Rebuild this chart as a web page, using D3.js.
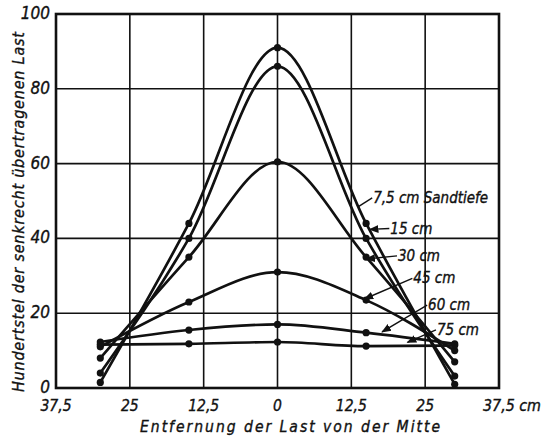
<!DOCTYPE html>
<html lang="de">
<head>
<meta charset="utf-8">
<style>
  body { margin: 0; background: #fff; }
  text { font-family: "DejaVu Sans Condensed", "DejaVu Sans", sans-serif; font-style: italic; fill: #111; stroke: #111; stroke-width: 0.35px; }
</style>
</head>
<body>
<script src="https://d3js.org/d3.v7.min.js"></script>
<script>
var width = 545, height = 440;

// Entfernung der Last von der Mitte (cm)
var xPos = [-30, -15, 0, 15, 30];
var xTicks = [-37.5, -25, -12.5, 0, 12.5, 25, 37.5];
var yTicks = [0, 20, 40, 60, 80, 100];

// Hundertstel der senkrecht übertragenen Last, je Sandtiefe
var depthNames = ["7,5 cm Sandtiefe", "15 cm", "30 cm", "45 cm", "60 cm", "75 cm"];
var d7_5 = [1.5, 44, 91, 44, 1];
var d15 = [4, 40, 86, 40, 3.2];
var d30 = [8, 35, 60.5, 35, 7];
var d45 = [11, 23, 31, 23.5, 10];
var d60 = [12.3, 15.5, 17, 14.8, 11.8];
var d75 = [11.6, 11.8, 12.3, 11.2, 11.4];
var series = [d7_5, d15, d30, d45, d60, d75];

// label anchor and leader ends, in data units
var labelAt = [[16.2, 49.5], [19.1, 41.3], [20.4, 34], [23, 28], [25.5, 20.8], [27, 14.2]];
var leaderTo = [[13.7, 48.5], [15.6, 42.4], [15.0, 34.5], [14.7, 23.8], [17.7, 15], [22, 12.2]];

var x = d3.scaleLinear().domain([-37.5, 37.5]).range([56, 499]);
var y = d3.scaleLinear().domain([0, 100]).range([388, 14]);

var svg = d3.select('body').append('svg').attr('width', width).attr('height', height);

svg.append('defs').append('marker')
    .attr('id', 'arr').attr('viewBox', '0 0 10 10').attr('refX', 9).attr('refY', 5)
    .attr('markerWidth', 7).attr('markerHeight', 7).attr('orient', 'auto')
    .append('path').attr('d', 'M0,1 L10,5 L0,9 Z').attr('fill', '#111');

// grid
svg.append('g').selectAll('line').data(xTicks.slice(1, -1)).join('line')
    .attr('x1', d => x(d)).attr('x2', d => x(d)).attr('y1', y(0)).attr('y2', y(100))
    .attr('stroke', '#111').attr('stroke-width', 1.6);
svg.append('g').selectAll('line').data(yTicks.slice(1, -1)).join('line')
    .attr('x1', x(-37.5)).attr('x2', x(37.5)).attr('y1', d => y(d)).attr('y2', d => y(d))
    .attr('stroke', '#111').attr('stroke-width', 1.6);

// frame
svg.append('rect').attr('x', x(-37.5)).attr('y', y(100))
    .attr('width', x(37.5) - x(-37.5)).attr('height', y(0) - y(100))
    .attr('fill', 'none').attr('stroke', '#111').attr('stroke-width', 2.6);

// tick labels
svg.append('g').selectAll('text').data(yTicks).join('text')
    .attr('x', x(-37.5) - 6).attr('y', d => y(d) + 5)
    .attr('text-anchor', 'end').attr('font-size', 17).text(d => d);

svg.append('g').selectAll('text').data(xTicks.slice(0, -1)).join('text')
    .attr('x', d => x(d)).attr('y', 411)
    .attr('text-anchor', 'middle').attr('font-size', 15.5)
    .text(d => String(Math.abs(d)).replace('.', ','));
svg.append('text').attr('x', x(37.5) - 16).attr('y', 411)
    .attr('font-size', 15.5).attr('textLength', 58).attr('lengthAdjust', 'spacingAndGlyphs')
    .text('37,5 cm');

// axis titles
svg.append('text').attr('x', 140).attr('y', 432)
    .attr('font-size', 15.5).attr('textLength', 300).attr('lengthAdjust', 'spacing')
    .text('Entfernung der Last von der Mitte');
svg.append('text').attr('transform', 'translate(24,392) rotate(-90)')
    .attr('font-size', 16).attr('textLength', 360).attr('lengthAdjust', 'spacing')
    .text('Hundertstel der  senkrecht übertragenen Last');

// curves
var line = d3.line().x((d, i) => x(xPos[i])).y(d => y(d)).curve(d3.curveMonotoneX);
svg.append('g').selectAll('path').data(series).join('path')
    .attr('d', line).attr('fill', 'none').attr('stroke', '#111').attr('stroke-width', 2.7);

series.forEach(function (s) {
    svg.append('g').selectAll('circle').data(s).join('circle')
        .attr('cx', (d, i) => x(xPos[i])).attr('cy', d => y(d)).attr('r', 3.6).attr('fill', '#111');
});

// leaders and labels
svg.append('g').selectAll('line').data(depthNames).join('line')
    .attr('x1', (d, i) => x(labelAt[i][0]) - 1).attr('y1', (d, i) => y(labelAt[i][1]) - 5)
    .attr('x2', (d, i) => x(leaderTo[i][0])).attr('y2', (d, i) => y(leaderTo[i][1]))
    .attr('stroke', '#111').attr('stroke-width', 1.4)
    .attr('marker-end', (d, i) => i === 0 ? null : 'url(#arr)');

svg.append('g').selectAll('text').data(depthNames).join('text')
    .attr('x', (d, i) => x(labelAt[i][0])).attr('y', (d, i) => y(labelAt[i][1]))
    .attr('font-size', 15).text(d => d);
</script>
</body>
</html>
